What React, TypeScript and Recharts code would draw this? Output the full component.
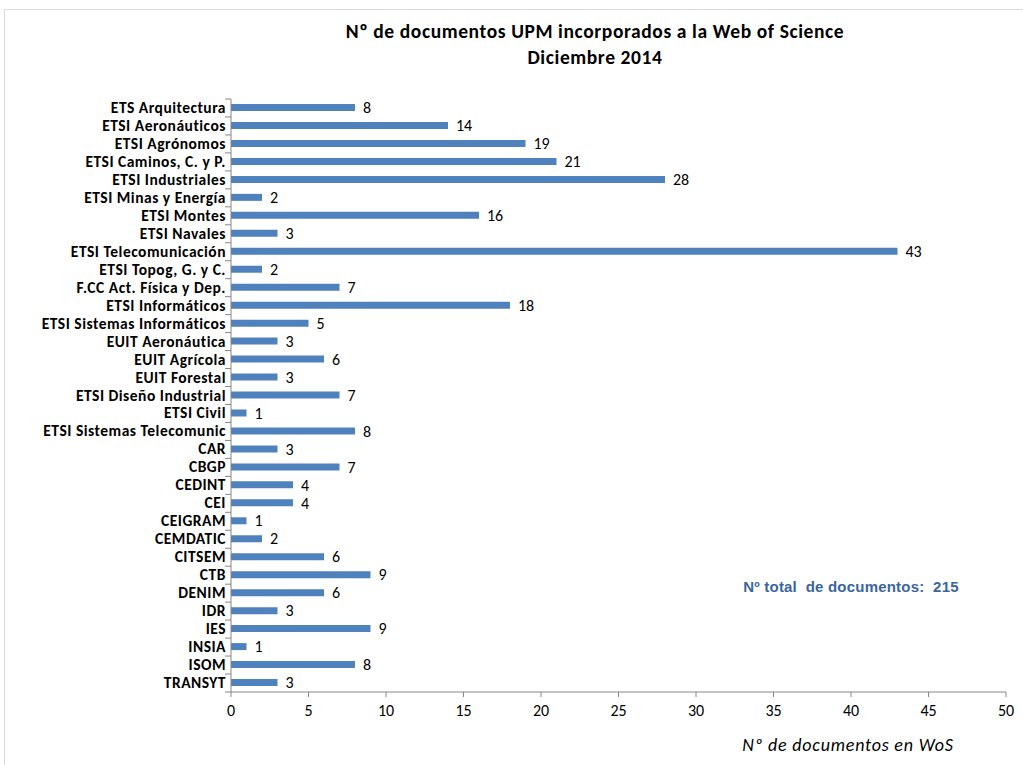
import { BarChart, Bar, XAxis, YAxis, LabelList } from 'recharts'

const centros = [
  'ETS Arquitectura', 'ETSI Aeronáuticos', 'ETSI Agrónomos', 'ETSI Caminos, C. y P.',
  'ETSI Industriales', 'ETSI Minas y Energía', 'ETSI Montes', 'ETSI Navales',
  'ETSI Telecomunicación', 'ETSI Topog, G. y C.', 'F.CC Act. Física y Dep.', 'ETSI Informáticos',
  'ETSI Sistemas Informáticos', 'EUIT Aeronáutica', 'EUIT Agrícola', 'EUIT Forestal',
  'ETSI Diseño Industrial', 'ETSI Civil', 'ETSI Sistemas Telecomunic', 'CAR',
  'CBGP', 'CEDINT', 'CEI', 'CEIGRAM', 'CEMDATIC', 'CITSEM', 'CTB', 'DENIM',
  'IDR', 'IES', 'INSIA', 'ISOM', 'TRANSYT',
]
const documentos = [
  8, 14, 19, 21, 28, 2, 16, 3, 43, 2, 7, 18, 5, 3, 6, 3, 7, 1, 8, 3,
  7, 4, 4, 1, 2, 6, 9, 6, 3, 9, 1, 8, 3,
]
const xTicks = [0, 5, 10, 15, 20, 25, 30, 35, 40, 45, 50]
const totalDocs = 215

const data = centros.map((c, i) => ({ centro: c, docs: documentos[i] }))

const AXIS = '#868686'
const BAR = '#4F81BD'
const FONT = 'Carlito, Calibri, Lato, "Open Sans", sans-serif'

// excel-style category ticks sit on the boundaries, not on the centre
function CatTick(props: any) {
  const { x, y, payload } = props
  const half = 593 / 33 / 2
  return (
    <g>
      <line x1={231} x2={225} y1={y - half} y2={y - half} stroke={AXIS} />
      {payload.index === centros.length - 1 && (
        <line x1={231} x2={225} y1={y + half} y2={y + half} stroke={AXIS} />
      )}
      <text x={x + 3} y={y} dy={5} textAnchor="end" fontSize={15.5} fontWeight="bold" letterSpacing={0.5} fill="#000" fontFamily={FONT}>
        {payload.value}
      </text>
    </g>
  )
}

export default function App() {
  return (
    <div style={{ position: 'absolute', left: 0, top: 0, width: 1023, height: 765, background: '#fff', fontFamily: FONT }}>
      <div style={{ position: 'absolute', left: 4, top: 9, right: -2, bottom: -2, border: '1px solid #d9d9d9' }} />
      <BarChart
        layout="vertical"
        width={1023}
        height={765}
        data={data}
        margin={{ top: 99, right: 17, bottom: 43, left: 0 }}
        barSize={7}
      >
        <text x={595} y={38} textAnchor="middle" fontSize={19.5} fontWeight="bold" letterSpacing={0.6} fontFamily={FONT} fill="#000">
          Nº de documentos UPM incorporados a la Web of Science
        </text>
        <text x={595} y={64} textAnchor="middle" fontSize={19.5} fontWeight="bold" letterSpacing={0.6} fontFamily={FONT} fill="#000">
          Diciembre 2014
        </text>
        <XAxis
          type="number"
          domain={[0, 50]}
          ticks={xTicks}
          interval={0}
          stroke={AXIS}
          tickSize={5}
          height={30}
          tick={{ fontSize: 16, fill: '#000', fontFamily: FONT }}
          tickMargin={8}
        />
        <YAxis
          type="category"
          dataKey="centro"
          width={231}
          stroke={AXIS}
          tickLine={false}
          interval={0}
          tick={<CatTick />}
        />
        <Bar dataKey="docs" fill={BAR} isAnimationActive={false}>
          <LabelList dataKey="docs" position="right" offset={8} fontSize={16} fill="#000" fontFamily={FONT} />
        </Bar>
        <text x={851} y={592} textAnchor="middle" fontSize={15} fontWeight="bold" letterSpacing={0.2} fill="#3A66A0" fontFamily='"Liberation Sans", Arial, sans-serif' style={{ whiteSpace: 'pre' }}>
          {`Nº total  de documentos:  ${totalDocs}`}
        </text>
        <text x={848} y={751} textAnchor="middle" fontSize={18} fontStyle="italic" letterSpacing={0.8} fill="#000" fontFamily={FONT}>
          Nº de documentos en WoS
        </text>
      </BarChart>
    </div>
  )
}
